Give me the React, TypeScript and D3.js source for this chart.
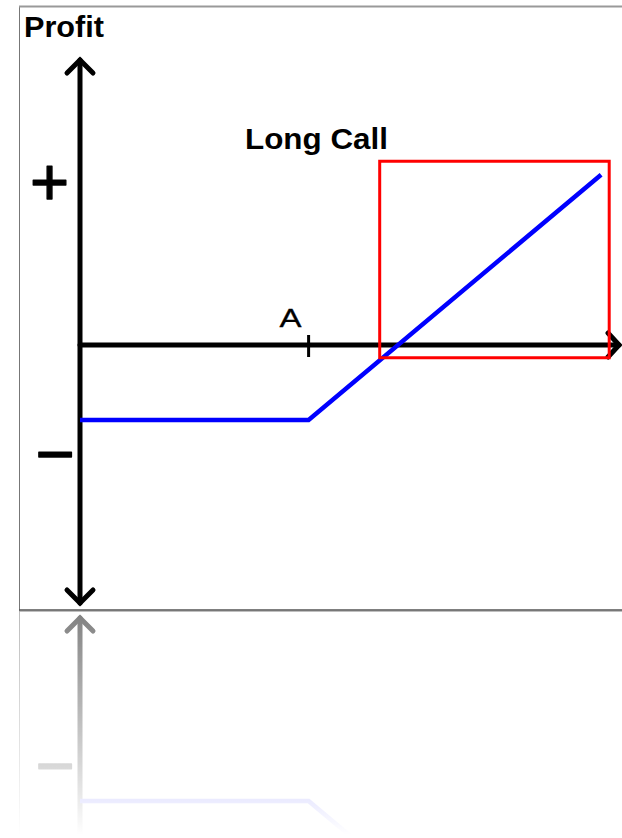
import React from 'react';
import * as d3 from 'd3';

// ---- data ----
const prices = [0, 2.54, 5.79];          // underlying price at line vertices
const profits = [-1, -1, 2.27];          // long call profit at those prices
const strikeValue = [2.54];
const strikeLabels = ['A'];
const highlightPrice = [3.33, 5.88];     // red box extent (price)
const highlightProfit = [-0.17, 2.45];   // red box extent (profit)
const signLabels = ['+', '\u2212'];
const signValues = [2.17, -1.45];
const title = 'Long Call';
const yAxisTitle = 'Profit';

const W = 622;
const H = 838;
const MIRROR = 610.5;

export default function App() {
  const x = d3.scaleLinear().domain([0, 6]).range([80, 620]);
  const y = d3.scaleLinear().domain([-3.44, 3.8]).range([603, 60]);

  const line = d3
    .line<number>()
    .x((_, i) => x(prices[i]))
    .y((d) => y(d));

  const x0 = x(0);
  const y0 = y(0);
  const yTop = y(3.8);
  const yBot = y(-3.44);
  const xEnd = x(6) - 1;

  const content = (
    <g id="content">
      {/* frame */}
      <line x1={19.5} y1={6} x2={19.5} y2={MIRROR} stroke="#777" strokeWidth={1} />
      <line x1={19} y1={6.5} x2={W} y2={6.5} stroke="#999" strokeWidth={2} />
      <line x1={19} y1={610} x2={W} y2={610} stroke="#555" strokeWidth={1.6} />

      {/* axes */}
      <g stroke="#000" strokeWidth={5} fill="none" strokeLinecap="round" strokeLinejoin="miter">
        <line x1={x0} y1={yTop} x2={x0} y2={yBot} />
        <line x1={x0} y1={y0} x2={xEnd} y2={y0} />
        <polyline points={`${x0 - 13},${yTop + 13} ${x0},${yTop} ${x0 + 13},${yTop + 13}`} />
        <polyline points={`${x0 - 13},${yBot - 13} ${x0},${yBot} ${x0 + 13},${yBot - 13}`} />
        <polyline points={`${xEnd - 11},${y0 - 12} ${xEnd},${y0} ${xEnd - 11},${y0 + 12}`} />
      </g>

      {/* strike tick + label */}
      {strikeValue.map((s, i) => (
        <g key={i}>
          <line x1={x(s)} y1={y0 - 10} x2={x(s)} y2={y0 + 12} stroke="#000" strokeWidth={3} />
          <text
            x={x(s) - 29}
            y={y0 - 18}
            fontFamily="Liberation Sans, Arial, sans-serif"
            fontSize={26}
            textLength={22}
            lengthAdjust="spacingAndGlyphs"
            fill="#000"
            stroke="#000"
            strokeWidth={0.3}
          >
            {strikeLabels[i]}
          </text>
        </g>
      ))}

      {/* payoff line */}
      <path d={line(profits) || ''} fill="none" stroke="#0000ff" strokeWidth={4.5} strokeLinejoin="miter" />

      {/* highlight box */}
      <rect
        x={x(highlightPrice[0])}
        y={y(highlightProfit[1])}
        width={x(highlightPrice[1]) - x(highlightPrice[0])}
        height={y(highlightProfit[0]) - y(highlightProfit[1])}
        fill="none"
        stroke="#ff0000"
        strokeWidth={3}
      />

      {/* sign labels */}
      {signLabels.map((s, i) => (
        <text
          key={i}
          x={i === 0 ? 49.5 : 55}
          y={y(signValues[i]) + 23}
          textAnchor="middle"
          fontFamily="Liberation Sans, Arial, sans-serif"
          fontSize={67}
          fill="#000"
          stroke="#000"
          strokeWidth={1.4}
          strokeLinejoin="round"
        >
          {s}
        </text>
      ))}

      {/* titles */}
      <text
        x={24}
        y={37}
        fontFamily="Liberation Sans, Arial, sans-serif"
        fontWeight="bold"
        fontSize={29}
        textLength={80}
        lengthAdjust="spacingAndGlyphs"
        fill="#000"
      >
        {yAxisTitle}
      </text>
      <text
        x={245}
        y={149}
        fontFamily="Liberation Sans, Arial, sans-serif"
        fontWeight="bold"
        fontSize={29}
        textLength={143}
        lengthAdjust="spacingAndGlyphs"
        fill="#000"
      >
        {title}
      </text>
    </g>
  );

  return (
    <svg
      width={W}
      height={H}
      viewBox={`0 0 ${W} ${H}`}
      style={{ position: 'absolute', left: 0, top: 0, background: '#fff' }}
    >
      <defs>
        <linearGradient id="fadeGrad" gradientUnits="userSpaceOnUse" x1={0} y1={MIRROR} x2={0} y2={835}>
          <stop offset="0" stopColor="#fff" stopOpacity={0.5} />
          <stop offset="1" stopColor="#fff" stopOpacity={0} />
        </linearGradient>
        <mask id="fade" maskUnits="userSpaceOnUse" x={0} y={0} width={W} height={H}>
          <rect x={0} y={MIRROR} width={W} height={H - MIRROR} fill="url(#fadeGrad)" />
        </mask>
      </defs>
      <rect x={0} y={0} width={W} height={H} fill="#fff" />
      {content}
      <g mask="url(#fade)">
        <use href="#content" transform={`translate(0 ${2 * MIRROR}) scale(1 -1)`} />
      </g>
    </svg>
  );
}
